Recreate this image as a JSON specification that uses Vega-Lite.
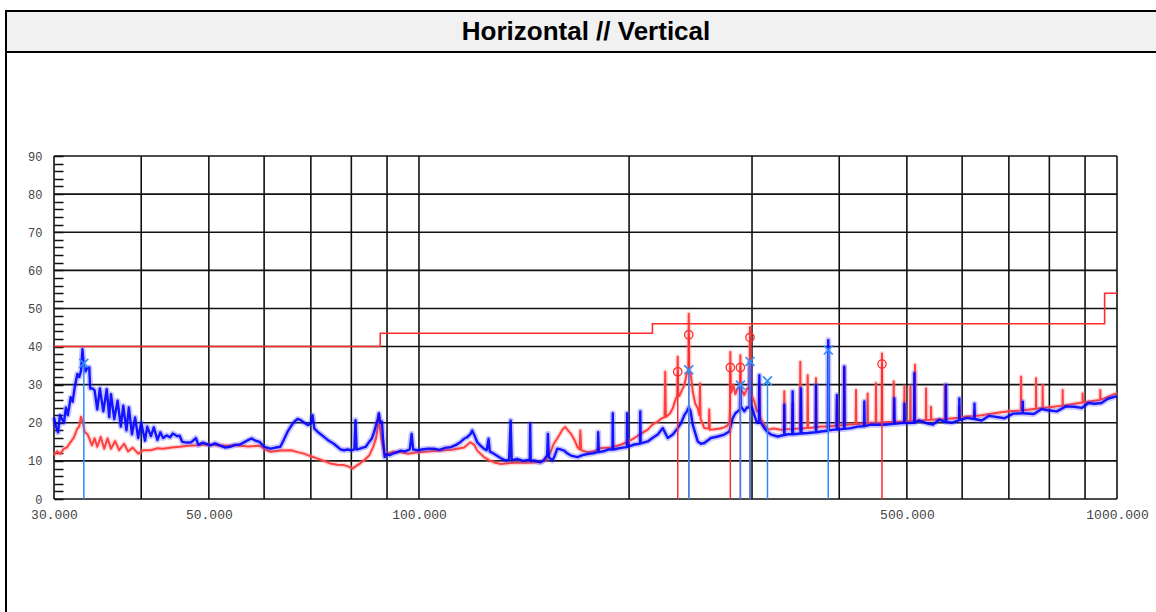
{
"$schema": "https://vega.github.io/schema/vega-lite/v6.json",
"padding": {"left": 5, "top": 10, "right": 0, "bottom": 0},
"background": "white",
"spacing": 0,
"bounds": "flush",
"config": {"concat": {"spacing": 0}},
"datasets": {
"grid_v": [{"f":30},{"f":40},{"f":50},{"f":60},{"f":70},{"f":80},{"f":90},{"f":100},{"f":200},{"f":300},{"f":400},{"f":500},{"f":600},{"f":700},{"f":800},{"f":900},{"f":1000}],
"grid_h": [{"v":0},{"v":10},{"v":20},{"v":30},{"v":40},{"v":50},{"v":60},{"v":70},{"v":80},{"v":90}],
"limit": [{"f":30,"v":40},{"f":88,"v":43.5},{"f":216,"v":46},{"f":960,"v":54},{"f":1000,"v":54}],
"red": [
{"f":30.0,"v":11.5},{"f":30.3,"v":12.5},{"f":30.6,"v":11.8},{"f":31.0,"v":13.2},{"f":31.3,"v":13.5},{"f":31.7,"v":15},{"f":32.0,"v":16},{"f":32.4,"v":18.5},{"f":32.6,"v":19},{"f":32.8,"v":21.6},{"f":33.0,"v":20},{"f":33.2,"v":17.6},{"f":33.5,"v":17},{"f":33.7,"v":15.9},{"f":34.0,"v":14.1},{"f":34.3,"v":15.9},{"f":34.6,"v":13.7},{"f":35.0,"v":16.3},{"f":35.4,"v":13.2},{"f":35.8,"v":15.9},{"f":36.2,"v":13.2},{"f":36.7,"v":15.2},{"f":37.2,"v":12.8},{"f":37.8,"v":14.5},{"f":38.3,"v":12.5},{"f":38.9,"v":13.5},{"f":39.6,"v":11.9},{"f":40.3,"v":12.8},{"f":41.3,"v":12.8},{"f":42.2,"v":13.3},{"f":43.0,"v":13.2},{"f":44.2,"v":13.5},{"f":45.4,"v":13.7},{"f":46.7,"v":14},{"f":48.0,"v":14.1},{"f":49.5,"v":14.3},{"f":51.4,"v":14.1},{"f":53,"v":14},{"f":54.7,"v":14.1},{"f":56.9,"v":13.8},{"f":59.1,"v":14},{"f":60.2,"v":13},{"f":61.3,"v":12.4},{"f":63.3,"v":12.7},{"f":65.6,"v":12.8},{"f":67,"v":12.3},{"f":68.4,"v":11.9},{"f":70,"v":11.2},{"f":71.6,"v":10.6},{"f":73.1,"v":10},{"f":74.7,"v":9.3},{"f":76.4,"v":9},{"f":78.1,"v":8.9},{"f":79.3,"v":8.5},{"f":80.4,"v":8},{"f":81.3,"v":8.7},{"f":82.3,"v":9.3},{"f":83.6,"v":10.3},{"f":84.9,"v":11.5},{"f":85.9,"v":13.5},{"f":86.8,"v":15.9},{"f":87.3,"v":19},{"f":87.6,"v":22},{"f":88.0,"v":18},{"f":88.5,"v":15},{"f":89.3,"v":11.5},{"f":90.5,"v":12},{"f":91.8,"v":12.4},{"f":94,"v":12.3},{"f":96.5,"v":11.9},{"f":99,"v":12.2},{"f":101,"v":12.3},{"f":104,"v":12.5},{"f":108,"v":12.7},{"f":112,"v":13},{"f":116,"v":13.5},{"f":118.5,"v":14.9},{"f":120,"v":14.2},{"f":121.2,"v":12.7},{"f":123.9,"v":11},{"f":126,"v":10.2},{"f":128.2,"v":9.6},{"f":131,"v":9.2},{"f":134,"v":9.4},{"f":138,"v":9.6},{"f":142,"v":9.5},{"f":146,"v":9.6},{"f":150,"v":9.8},{"f":152.6,"v":10.5},{"f":154.5,"v":12.5},{"f":156,"v":14.5},{"f":157.7,"v":15.8},{"f":159.3,"v":17.1},{"f":160.5,"v":18.2},{"f":162,"v":18.9},{"f":163.5,"v":18},{"f":165.1,"v":17.1},{"f":167,"v":15.5},{"f":168.7,"v":13.6},{"f":169.8,"v":13},{"f":170.3,"v":18},{"f":170.8,"v":12.8},{"f":174.5,"v":12.3},{"f":178,"v":12.5},{"f":182.3,"v":13.4},{"f":189,"v":13.5},{"f":194.8,"v":14.3},{"f":199,"v":15},{"f":203.5,"v":16},{"f":207.5,"v":17},{"f":212.7,"v":18.2},{"f":216,"v":19.5},{"f":219.8,"v":20.3},{"f":222,"v":21},{"f":224.8,"v":21.5},{"f":225.3,"v":33.4},{"f":225.8,"v":21.5},{"f":229,"v":22.5},{"f":231,"v":23.8},{"f":233,"v":26},{"f":234.4,"v":27},{"f":234.8,"v":37.3},{"f":235.2,"v":27},{"f":236,"v":27},{"f":238,"v":28.5},{"f":240,"v":29.9},{"f":242,"v":33},{"f":243.1,"v":33},{"f":243.5,"v":48.6},{"f":243.9,"v":33},{"f":245,"v":33},{"f":246.7,"v":28.2},{"f":248.8,"v":25},{"f":250.8,"v":23.8},{"f":252.2,"v":22},{"f":252.7,"v":30.3},{"f":253.2,"v":21},{"f":256.3,"v":18.6},{"f":259,"v":18.5},{"f":260.1,"v":18.5},{"f":260.5,"v":23.5},{"f":261,"v":18.2},{"f":265,"v":18.3},{"f":270,"v":18.5},{"f":273.8,"v":18.8},{"f":276,"v":19.2},{"f":278.4,"v":20},{"f":278.9,"v":24},{"f":279.3,"v":38.6},{"f":279.7,"v":28},{"f":280.3,"v":28},{"f":282,"v":30},{"f":284,"v":27.5},{"f":286,"v":29},{"f":288.3,"v":29},{"f":288.7,"v":37.7},{"f":289.1,"v":28.5},{"f":290,"v":28.5},{"f":292.5,"v":27.3},{"f":295,"v":29},{"f":297.6,"v":29},{"f":298,"v":45.1},{"f":298.4,"v":27.5},{"f":300,"v":27},{"f":302.3,"v":25.6},{"f":305,"v":23},{"f":306.9,"v":23},{"f":307.3,"v":30},{"f":307.7,"v":22},{"f":309,"v":21},{"f":312.4,"v":19.5},{"f":316,"v":18.2},{"f":322,"v":18.5},{"f":330,"v":18.2},{"f":333.2,"v":18.2},{"f":333.7,"v":28.3},{"f":334.2,"v":18.3},{"f":342.5,"v":18.4},{"f":343,"v":25},{"f":343.5,"v":18.4},{"f":351.3,"v":18.5},{"f":351.8,"v":36},{"f":352.3,"v":18.5},{"f":360,"v":18.6},{"f":360.5,"v":32.5},{"f":361,"v":18.6},{"f":370,"v":18.8},{"f":370.5,"v":31.7},{"f":371,"v":18.8},{"f":376.7,"v":19},{"f":385.1,"v":19},{"f":393.5,"v":19.2},{"f":396.5,"v":19.2},{"f":397,"v":26},{"f":397.5,"v":19.2},{"f":406.2,"v":19.4},{"f":406.7,"v":34.7},{"f":407.2,"v":19.4},{"f":415.8,"v":19.6},{"f":422.3,"v":19.7},{"f":422.8,"v":28.6},{"f":423.3,"v":19.7},{"f":438.8,"v":19.8},{"f":439.3,"v":27.7},{"f":439.8,"v":19.8},{"f":444.2,"v":20},{"f":451.1,"v":20},{"f":451.6,"v":30.4},{"f":452,"v":20},{"f":460.1,"v":20.1},{"f":460.6,"v":38.2},{"f":461.1,"v":20.1},{"f":470,"v":20.2},{"f":478.3,"v":20.3},{"f":478.8,"v":30.8},{"f":479.3,"v":20.3},{"f":490.5,"v":20.3},{"f":495.5,"v":20.4},{"f":496,"v":29.5},{"f":496.5,"v":20.4},{"f":505.3,"v":20.5},{"f":505.8,"v":29.5},{"f":506.3,"v":20.5},{"f":513.1,"v":20.5},{"f":513.6,"v":35.2},{"f":514.1,"v":20.5},{"f":525,"v":20.6},{"f":532.2,"v":20.7},{"f":532.7,"v":29},{"f":533.2,"v":20.7},{"f":541,"v":20.8},{"f":541.5,"v":24.2},{"f":542,"v":20.8},{"f":566.5,"v":21},{"f":567,"v":29.9},{"f":567.5,"v":21},{"f":594,"v":21.3},{"f":594.5,"v":24},{"f":595,"v":21.3},{"f":600,"v":21.5},{"f":624.5,"v":21.8},{"f":625,"v":23},{"f":625.5,"v":21.8},{"f":640,"v":22},{"f":667,"v":22.5},{"f":700,"v":23},{"f":728.3,"v":23.2},{"f":728.8,"v":32.1},{"f":729.3,"v":23.2},{"f":750,"v":23.5},{"f":765.2,"v":23.7},{"f":765.7,"v":31.7},{"f":766.2,"v":23.7},{"f":782.1,"v":23.9},{"f":782.6,"v":29.9},{"f":783.1,"v":23.9},{"f":800,"v":24.1},{"f":835.5,"v":24.5},{"f":836,"v":28.6},{"f":836.5,"v":24.5},{"f":868.8,"v":25},{"f":892.5,"v":25.3},{"f":893,"v":27.7},{"f":893.5,"v":25.3},{"f":928,"v":25.8},{"f":946,"v":26},{"f":946.5,"v":28.6},{"f":947,"v":26},{"f":991,"v":27.5},{"f":1000,"v":27.8}
],
"blue": [
{"f":30.0,"v":21.4},{"f":30.2,"v":19},{"f":30.4,"v":17.5},{"f":30.6,"v":22},{"f":30.8,"v":21},{"f":31.0,"v":20},{"f":31.2,"v":24},{"f":31.4,"v":22},{"f":31.7,"v":26.7},{"f":31.9,"v":25.5},{"f":32.1,"v":29},{"f":32.4,"v":32.8},{"f":32.6,"v":32},{"f":32.8,"v":33.6},{"f":32.95,"v":39.3},{"f":33.1,"v":35},{"f":33.3,"v":33.5},{"f":33.5,"v":34.5},{"f":33.7,"v":34.5},{"f":33.8,"v":29},{"f":34.1,"v":29},{"f":34.3,"v":28.5},{"f":34.6,"v":23.5},{"f":34.9,"v":29},{"f":35.3,"v":23},{"f":35.7,"v":28.8},{"f":36.0,"v":21.5},{"f":36.2,"v":27.5},{"f":36.6,"v":21},{"f":37.0,"v":25.8},{"f":37.4,"v":19},{"f":37.7,"v":24.5},{"f":38.1,"v":18},{"f":38.4,"v":24},{"f":38.8,"v":17},{"f":39.2,"v":21.4},{"f":39.6,"v":16},{"f":40.0,"v":20},{"f":40.5,"v":15.3},{"f":40.8,"v":19},{"f":41.3,"v":16.5},{"f":41.7,"v":18.8},{"f":42.2,"v":15.5},{"f":42.6,"v":17.5},{"f":43.0,"v":16},{"f":43.5,"v":16.7},{"f":44.0,"v":16.2},{"f":44.4,"v":17.2},{"f":45.0,"v":16.5},{"f":45.4,"v":16.6},{"f":45.8,"v":15},{"f":46.5,"v":14.8},{"f":47.2,"v":14.9},{"f":47.9,"v":16},{"f":48.3,"v":14.2},{"f":49.0,"v":14.8},{"f":49.5,"v":14.5},{"f":50.3,"v":14.1},{"f":51.0,"v":14.6},{"f":51.9,"v":14},{"f":52.8,"v":13.5},{"f":53.6,"v":13.7},{"f":54.5,"v":14.2},{"f":55.4,"v":14.3},{"f":56.3,"v":15},{"f":57.0,"v":15.5},{"f":57.6,"v":15.9},{"f":58.3,"v":15.3},{"f":59.1,"v":15},{"f":60.0,"v":13.7},{"f":61.3,"v":13.2},{"f":62.3,"v":13.5},{"f":63.3,"v":13.7},{"f":64.0,"v":15.5},{"f":64.8,"v":17.6},{"f":65.5,"v":19},{"f":66.3,"v":20.3},{"f":67.0,"v":21},{"f":67.7,"v":20.7},{"f":68.5,"v":20},{"f":69.3,"v":19.4},{"f":70.0,"v":19.8},{"f":70.4,"v":22},{"f":70.8,"v":18.5},{"f":71.6,"v":17.6},{"f":72.3,"v":17},{"f":73.1,"v":16.3},{"f":74.0,"v":15.5},{"f":74.7,"v":15},{"f":75.5,"v":14.5},{"f":76.4,"v":13.7},{"f":77.2,"v":13},{"f":78.1,"v":12.8},{"f":79.0,"v":13},{"f":80.0,"v":12.8},{"f":80.8,"v":13},{"f":81.1,"v":20.7},{"f":81.4,"v":13},{"f":82.3,"v":13.2},{"f":83.1,"v":13.5},{"f":83.9,"v":13.7},{"f":84.7,"v":14.8},{"f":85.6,"v":15.9},{"f":86.2,"v":17.5},{"f":86.8,"v":19.4},{"f":87.3,"v":21},{"f":87.6,"v":22.5},{"f":88.0,"v":20},{"f":88.5,"v":20.3},{"f":88.8,"v":16},{"f":89.3,"v":11},{"f":90.0,"v":11.8},{"f":90.8,"v":11.5},{"f":92.0,"v":12},{"f":93.4,"v":12.4},{"f":94.1,"v":12.7},{"f":95.5,"v":12.5},{"f":97.0,"v":13},{"f":97.6,"v":17.1},{"f":98.1,"v":13},{"f":99.5,"v":12.8},{"f":101,"v":13},{"f":103,"v":13.2},{"f":105,"v":13.2},{"f":107,"v":12.9},{"f":109,"v":13.4},{"f":111.1,"v":13.6},{"f":113,"v":14.2},{"f":114.6,"v":14.9},{"f":116,"v":15.8},{"f":117.2,"v":16.2},{"f":118.5,"v":17},{"f":119.2,"v":18},{"f":120.2,"v":16.5},{"f":121.2,"v":14.9},{"f":122.5,"v":14},{"f":123.9,"v":13.2},{"f":125,"v":12.8},{"f":125.8,"v":15.8},{"f":126.3,"v":12.5},{"f":128.2,"v":11.8},{"f":130.7,"v":10.8},{"f":133.1,"v":10.1},{"f":134.6,"v":10.3},{"f":135.3,"v":20.6},{"f":135.8,"v":10.2},{"f":138.3,"v":10.5},{"f":141,"v":10},{"f":144.1,"v":10.3},{"f":144.3,"v":19.7},{"f":144.6,"v":10},{"f":146.1,"v":10.1},{"f":149.2,"v":9.6},{"f":151,"v":10.2},{"f":152.6,"v":11.5},{"f":153,"v":17.1},{"f":153.5,"v":11},{"f":155.2,"v":10.1},{"f":156.2,"v":11},{"f":157.8,"v":13.2},{"f":159.5,"v":13},{"f":161.4,"v":12.7},{"f":163,"v":12},{"f":165.1,"v":11.4},{"f":168.7,"v":11},{"f":171.5,"v":11.5},{"f":174.5,"v":11.8},{"f":177.5,"v":12},{"f":180.3,"v":12.3},{"f":180.6,"v":17.5},{"f":181,"v":12.3},{"f":184.5,"v":12.6},{"f":187,"v":13},{"f":189.3,"v":13},{"f":189.5,"v":22.5},{"f":189.8,"v":13},{"f":194.8,"v":13.4},{"f":198.5,"v":13.6},{"f":198.7,"v":22.5},{"f":199,"v":13.7},{"f":203.5,"v":14.3},{"f":207.3,"v":14.5},{"f":207.5,"v":23},{"f":207.8,"v":14.6},{"f":212.7,"v":15.1},{"f":216,"v":16},{"f":219.8,"v":16.9},{"f":223.5,"v":18.6},{"f":227.2,"v":16},{"f":231,"v":16.9},{"f":234.8,"v":18.6},{"f":237.5,"v":20},{"f":240,"v":22},{"f":242,"v":23},{"f":243.5,"v":24},{"f":245,"v":23},{"f":246.7,"v":19.5},{"f":250.8,"v":15.1},{"f":253.5,"v":14.5},{"f":256.3,"v":14.7},{"f":262,"v":16},{"f":267.9,"v":16.4},{"f":273.8,"v":16.9},{"f":278.4,"v":17.7},{"f":281.5,"v":21.2},{"f":284,"v":22.5},{"f":286.2,"v":23},{"f":288.3,"v":23.5},{"f":288.7,"v":29.9},{"f":289.1,"v":24},{"f":290,"v":24},{"f":292.5,"v":23},{"f":295,"v":24},{"f":297.6,"v":24},{"f":298,"v":36},{"f":298.4,"v":24},{"f":300,"v":24},{"f":302.3,"v":22},{"f":305,"v":20},{"f":306.9,"v":20},{"f":307.3,"v":32.5},{"f":307.7,"v":20},{"f":309,"v":20},{"f":312.4,"v":18.6},{"f":316,"v":17.5},{"f":319.4,"v":16.9},{"f":326.5,"v":16.4},{"f":333.5,"v":16.8},{"f":333.7,"v":24.7},{"f":334,"v":16.8},{"f":337.5,"v":17},{"f":342.5,"v":17},{"f":343,"v":28.2},{"f":343.5,"v":17},{"f":352,"v":17.2},{"f":352.6,"v":29},{"f":353.2,"v":17.2},{"f":360.5,"v":17.3},{"f":370.3,"v":17.5},{"f":370.5,"v":29.9},{"f":370.8,"v":17.5},{"f":376.7,"v":17.7},{"f":385.3,"v":17.9},{"f":385.8,"v":41.7},{"f":386.3,"v":18},{"f":393.5,"v":18.2},{"f":396.5,"v":18.2},{"f":397,"v":27.3},{"f":397.5,"v":18.2},{"f":406.2,"v":18.4},{"f":406.7,"v":34.7},{"f":407.2,"v":18.4},{"f":415.8,"v":18.6},{"f":425,"v":19},{"f":434,"v":19.1},{"f":434.5,"v":25.6},{"f":435,"v":19.1},{"f":444.2,"v":19.5},{"f":464,"v":19.5},{"f":479.2,"v":19.7},{"f":479.7,"v":26.4},{"f":480.3,"v":19.7},{"f":490.5,"v":19.9},{"f":495.5,"v":19.9},{"f":496,"v":25},{"f":496.5,"v":19.9},{"f":512,"v":20},{"f":512.5,"v":33},{"f":513,"v":20},{"f":520,"v":20.6},{"f":535.6,"v":19.8},{"f":545,"v":19.5},{"f":556,"v":20.8},{"f":568.4,"v":20.2},{"f":568.9,"v":29.9},{"f":569.4,"v":20.2},{"f":580,"v":20},{"f":594,"v":20.7},{"f":594.5,"v":26.4},{"f":595,"v":20.7},{"f":610,"v":21.3},{"f":624.4,"v":21},{"f":624.9,"v":25},{"f":625.4,"v":21},{"f":640,"v":20.6},{"f":655,"v":21.8},{"f":667.3,"v":21.6},{"f":690,"v":21.2},{"f":710,"v":22.4},{"f":732.4,"v":22.5},{"f":732.9,"v":25.5},{"f":733.4,"v":22.5},{"f":760,"v":22.3},{"f":780,"v":23.6},{"f":795.6,"v":23.3},{"f":820,"v":23},{"f":845,"v":24.3},{"f":868.8,"v":24.2},{"f":890,"v":23.9},{"f":910,"v":25.2},{"f":928,"v":25},{"f":950,"v":25.2},{"f":970,"v":26.3},{"f":991,"v":26.8},{"f":1000,"v":27}
],
"mk_red": [{"f":234.8,"v":33.4},{"f":243.5,"v":43.1},{"f":279.3,"v":34.5},{"f":288.7,"v":34.5},{"f":298,"v":42.4},{"f":460.6,"v":35.4}],
"mk_blue": [{"f":33.1,"v":35.6},{"f":243.5,"v":33.9},{"f":288.7,"v":29.9},{"f":298,"v":36.1},{"f":315.7,"v":31},{"f":385.8,"v":39.1}]
},
"vconcat": [
{
"width": 1160, "height": 41,
"view": {"fill": "#f1f1f1", "stroke": "black", "strokeWidth": 2},
"data": {"values": [{"title": "Horizontal // Vertical"}]},
"mark": {"type": "text", "font": "Liberation Sans", "fontWeight": "bold", "fontSize": 26, "baseline": "middle", "align": "center", "color": "black"},
"encoding": {"text": {"field": "title", "type": "nominal"}}
},
{
"width": 1160, "height": 565,
"view": {"fill": "white", "stroke": "black", "strokeWidth": 2},
"layer": [
{
"data": {"name": "grid_v"},
"mark": {"type": "rule", "color": "#111", "strokeWidth": 1.6},
"encoding": {
"x": {"field": "f", "type": "quantitative", "scale": {"type": "log", "domain": [30, 1000], "range": [48, 1111], "nice": false},
 "axis": {"values": [30, 50, 100, 500, 1000], "format": ".3f", "ticks": false, "domain": false, "grid": false, "labelFont": "Liberation Mono", "labelFontSize": 13, "labelColor": "#444", "labelPadding": 9, "offset": -118, "title": null, "labelFlush": false, "labelOverlap": false}},
"y": {"datum": 0, "type": "quantitative", "scale": {"domain": [0, 90], "range": [447, 104], "nice": false, "zero": false},
 "axis": {"values": [0,2,4,6,8,10,12,14,16,18,20,22,24,26,28,30,32,34,36,38,40,42,44,46,48,50,52,54,56,58,60,62,64,66,68,70,72,74,76,78,80,82,84,86,88,90], "tickCount": 200, "format": "d", "labelExpr": "datum.value % 10 === 0 ? datum.label : ''", "tickSize": -9, "tickColor": "#111", "tickWidth": 1.5, "domain": false, "grid": false, "labelFont": "Liberation Mono", "labelFontSize": 12, "labelColor": "#444", "labelPadding": 21, "offset": -48, "title": null, "labelOverlap": false}},
"y2": {"datum": 90, "type": "quantitative"}
}
},
{
"data": {"name": "grid_h"},
"mark": {"type": "rule", "color": "#111", "strokeWidth": 1.6},
"encoding": {"y": {"field": "v", "type": "quantitative"}, "x": {"datum": 30, "type": "quantitative"}, "x2": {"datum": 1000, "type": "quantitative"}}
},
{
"data": {"name": "red"},
"mark": {"type": "line", "color": "#ff8080", "strokeWidth": 5, "opacity": 0.3, "strokeJoin": "round"},
"encoding": {"x": {"field": "f", "type": "quantitative"}, "y": {"field": "v", "type": "quantitative"}}
},
{
"data": {"name": "red"},
"mark": {"type": "line", "color": "#ff4040", "strokeWidth": 2, "strokeJoin": "round"},
"encoding": {"x": {"field": "f", "type": "quantitative"}, "y": {"field": "v", "type": "quantitative"}}
},
{
"data": {"name": "blue"},
"mark": {"type": "line", "color": "#4a4aff", "strokeWidth": 6, "opacity": 0.3, "strokeJoin": "round"},
"encoding": {"x": {"field": "f", "type": "quantitative"}, "y": {"field": "v", "type": "quantitative"}}
},
{
"data": {"name": "blue"},
"mark": {"type": "line", "color": "#0000ff", "strokeWidth": 2.4, "opacity": 0.9, "strokeJoin": "round"},
"encoding": {"x": {"field": "f", "type": "quantitative"}, "y": {"field": "v", "type": "quantitative"}}
},
{
"data": {"name": "limit"},
"mark": {"type": "line", "color": "#ff2a2a", "strokeWidth": 1.6, "interpolate": "step-after"},
"encoding": {"x": {"field": "f", "type": "quantitative"}, "y": {"field": "v", "type": "quantitative"}}
},
{
"data": {"name": "mk_red"},
"mark": {"type": "rule", "color": "#ff2a2a", "strokeWidth": 1.5},
"encoding": {"x": {"field": "f", "type": "quantitative"}, "y": {"field": "v", "type": "quantitative"}, "y2": {"datum": 0, "type": "quantitative"}}
},
{
"data": {"name": "mk_blue"},
"mark": {"type": "rule", "color": "#2e8bff", "strokeWidth": 1.5},
"encoding": {"x": {"field": "f", "type": "quantitative"}, "y": {"field": "v", "type": "quantitative"}, "y2": {"datum": 0, "type": "quantitative"}}
},
{
"data": {"name": "mk_red"},
"mark": {"type": "point", "shape": "circle", "filled": false, "size": 70, "stroke": "#ff2a2a", "strokeWidth": 1.3, "opacity": 1},
"encoding": {"x": {"field": "f", "type": "quantitative"}, "y": {"field": "v", "type": "quantitative"}}
},
{
"data": {"name": "mk_blue"},
"mark": {"type": "point", "shape": "M-1,-1L1,1M1,-1L-1,1", "filled": false, "size": 80, "stroke": "#2e8bff", "strokeWidth": 1.6, "opacity": 1},
"encoding": {"x": {"field": "f", "type": "quantitative"}, "y": {"field": "v", "type": "quantitative"}}
}
]
}
]
}
